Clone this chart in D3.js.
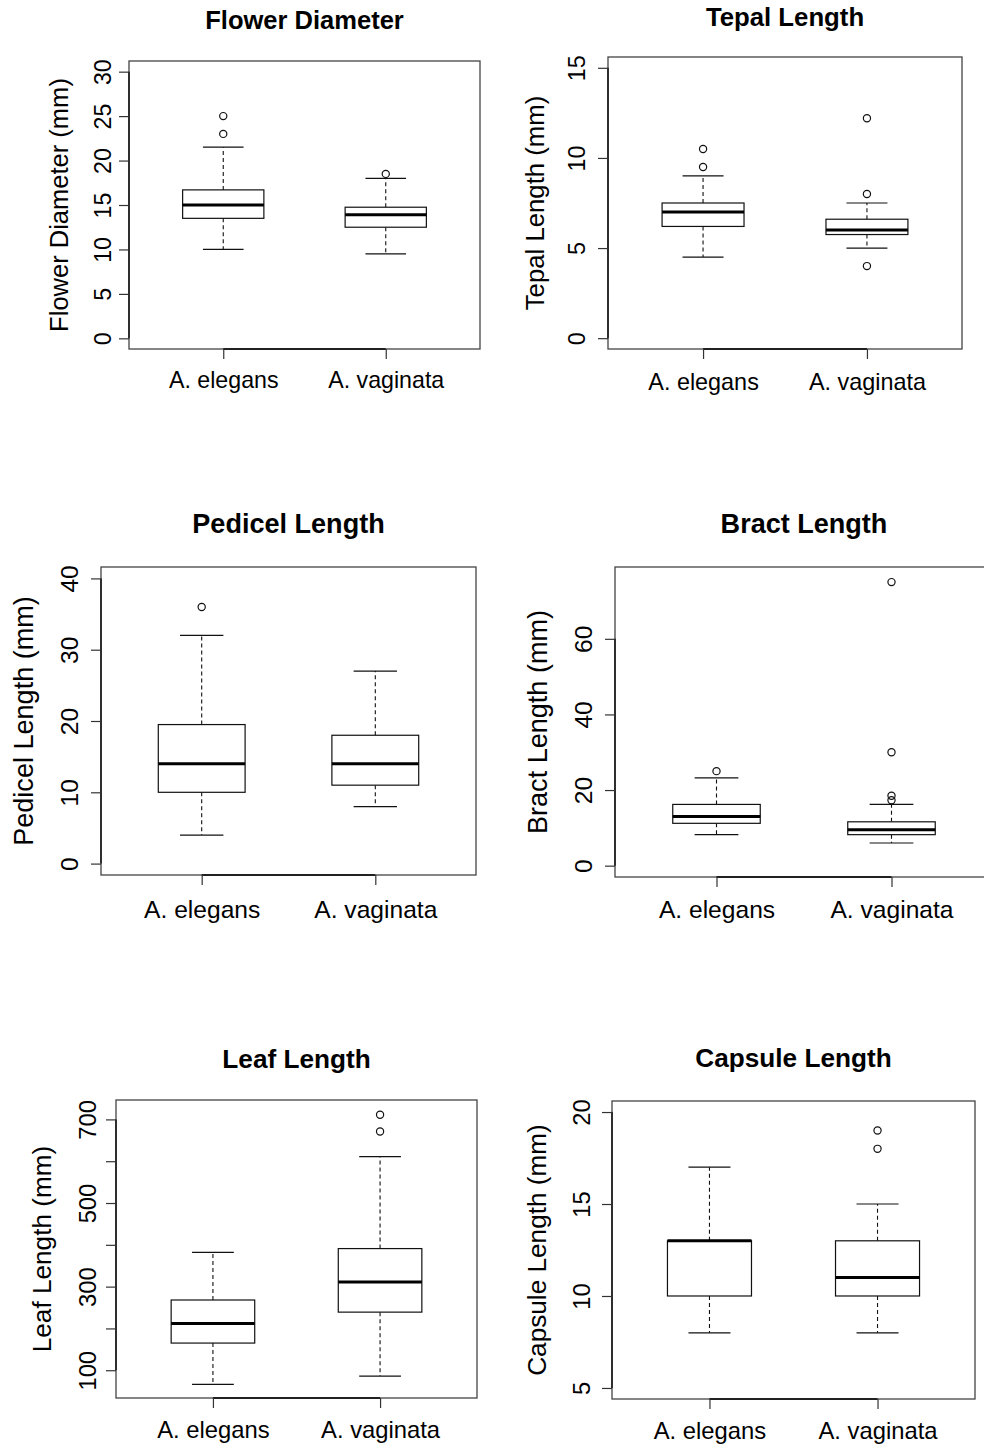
<!DOCTYPE html>
<html>
<head>
<meta charset="utf-8">
<script src="https://cdn.jsdelivr.net/npm/d3@7"></script>
<style>
  body { margin: 0; background: #fff; }
  text { font-family: "Liberation Sans", Arial, sans-serif; fill: #000; }
</style>
</head>
<body>
<div id="chart"></div>
<script>
const width = 984;
const height = 1448;

const species = ["A. elegans", "A. vaginata"];

// five-number summaries: [lower whisker, Q1, median, Q3, upper whisker]
const flowerStats = [[10, 13.5, 15, 16.7, 21.5], [9.5, 12.5, 13.9, 14.75, 18]];
const flowerOut = [[23, 25], [18.5]];
const flowerTicks = [0, 5, 10, 15, 20, 25, 30];

const tepalStats = [[4.5, 6.2, 7, 7.5, 9], [5, 5.75, 6, 6.6, 7.5]];
const tepalOut = [[9.5, 10.5], [4, 8, 12.2]];
const tepalTicks = [0, 5, 10, 15];

const pedicelStats = [[4, 10, 14, 19.5, 32], [8, 11, 14, 18, 27]];
const pedicelOut = [[36], []];
const pedicelTicks = [0, 10, 20, 30, 40];

const bractStats = [[8.2, 11.2, 13, 16.2, 23.2], [6, 8.2, 9.5, 11.6, 16.2]];
const bractOut = [[25], [17.3, 18.5, 30, 75]];
const bractTicks = [0, 20, 40, 60];

const leafStats = [[66, 165, 212, 268, 382], [86, 239, 311, 391, 611]];
const leafOut = [[], [671, 711]];
const leafTicks = [100, 200, 300, 400, 500, 600, 700];
const leafTickLabels = ["100", "", "300", "", "500", "", "700"];

const capsuleStats = [[8, 10, 13, 13, 17], [8, 10, 11, 13, 15]];
const capsuleOut = [[], [18, 19]];
const capsuleTicks = [5, 10, 15, 20];

const panels = [
  { title: "Flower Diameter", ylab: "Flower Diameter (mm)", stats: flowerStats, out: flowerOut, ticks: flowerTicks, domain: [-1.2, 31.2] },
  { title: "Tepal Length", ylab: "Tepal Length (mm)", stats: tepalStats, out: tepalOut, ticks: tepalTicks, domain: [-0.6, 15.6] },
  { title: "Pedicel Length", ylab: "Pedicel Length (mm)", stats: pedicelStats, out: pedicelOut, ticks: pedicelTicks, domain: [-1.6, 41.6] },
  { title: "Bract Length", ylab: "Bract Length (mm)", stats: bractStats, out: bractOut, ticks: bractTicks, domain: [-3, 79] },
  { title: "Leaf Length", ylab: "Leaf Length (mm)", stats: leafStats, out: leafOut, ticks: leafTicks, tickLabels: leafTickLabels, domain: [33.6, 746.4] },
  { title: "Capsule Length", ylab: "Capsule Length (mm)", stats: capsuleStats, out: capsuleOut, ticks: capsuleTicks, domain: [4.4, 20.6] }
];

// where each panel sits on the page
const layout = [
  { left: 129, right: 480, top: 61, bottom: 349, titleY: 29, ylabX: 68, ytickX: 110.5, xlabY: 388, fs: 23.2 },
  { left: 608, right: 962, top: 57, bottom: 349, titleY: 26, ylabX: 544, ytickX: 585, xlabY: 390, fs: 23.4 },
  { left: 101, right: 476, top: 567, bottom: 875, titleY: 533, ylabX: 33, ytickX: 78, xlabY: 918, fs: 24.6 },
  { left: 615, right: 993, top: 567, bottom: 877, titleY: 533, ylabX: 547, ytickX: 592, xlabY: 918, fs: 24.6 },
  { left: 116, right: 477, top: 1100, bottom: 1398, titleY: 1068, ylabX: 51, ytickX: 95.5, xlabY: 1438, fs: 23.8 },
  { left: 612, right: 975, top: 1101, bottom: 1399, titleY: 1067, ylabX: 546, ytickX: 590, xlabY: 1439, fs: 23.8 }
];

const svg = d3.select("#chart")
  .append("svg")
  .attr("width", width)
  .attr("height", height);

svg.append("rect")
  .attr("width", width)
  .attr("height", height)
  .attr("fill", "white");

panels.forEach(function(p, i) {
  const L = layout[i];
  const g = svg.append("g");

  const x = d3.scaleLinear().domain([0.42, 2.58]).range([L.left, L.right]);
  const y = d3.scaleLinear().domain(p.domain).range([L.bottom, L.top]);
  const xs = [1, 2];

  // plot frame
  g.append("rect")
    .attr("x", L.left)
    .attr("y", L.top)
    .attr("width", L.right - L.left)
    .attr("height", L.bottom - L.top)
    .attr("fill", "none")
    .attr("stroke", "#444")
    .attr("stroke-width", 1.3);

  // y axis
  const yAxis = g.append("g")
    .attr("transform", `translate(${L.left},0)`)
    .call(d3.axisLeft(y)
      .tickValues(p.ticks)
      .tickSize(10)
      .tickSizeOuter(0)
      .tickFormat((d, k) => p.tickLabels ? p.tickLabels[k] : d));
  yAxis.select(".domain")
    .attr("d", `M0,${y(p.ticks[0])}V${y(p.ticks[p.ticks.length - 1])}`)
    .attr("stroke", "#000")
    .attr("stroke-width", 1.3);
  yAxis.selectAll(".tick line").attr("stroke", "#333").attr("stroke-width", 1.2);
  yAxis.selectAll(".tick text")
    .attr("x", null).attr("dy", null)
    .attr("transform", `translate(${L.ytickX - L.left},0) rotate(-90)`)
    .attr("text-anchor", "middle")
    .attr("font-size", L.fs)
    .attr("font-family", "Liberation Sans, Arial, sans-serif")
    .attr("fill", "#000");

  // x axis
  const xAxis = g.append("g")
    .attr("transform", `translate(0,${L.bottom})`)
    .call(d3.axisBottom(x)
      .tickValues(xs)
      .tickSize(10)
      .tickSizeOuter(0)
      .tickFormat((d, k) => species[k]));
  xAxis.select(".domain")
    .attr("d", `M${x(1)},0H${x(2)}`)
    .attr("stroke", "#000")
    .attr("stroke-width", 1.3);
  xAxis.selectAll(".tick line").attr("stroke", "#333").attr("stroke-width", 1.2);
  xAxis.selectAll(".tick text")
    .attr("y", L.xlabY - L.bottom).attr("dy", null)
    .attr("font-size", L.fs)
    .attr("font-family", "Liberation Sans, Arial, sans-serif")
    .attr("fill", "#000");

  // titles
  g.append("text")
    .attr("x", (L.left + L.right) / 2)
    .attr("y", L.titleY)
    .attr("text-anchor", "middle")
    .attr("font-weight", "bold")
    .attr("font-size", L.fs * 1.1)
    .text(p.title);

  g.append("text")
    .attr("transform", `translate(${L.ylabX},${(L.top + L.bottom) / 2}) rotate(-90)`)
    .attr("text-anchor", "middle")
    .attr("font-size", L.fs * 1.1)
    .text(p.ylab);

  // boxes
  const bw = 0.25, sw = 0.125;
  p.stats.forEach(function(s, k) {
    const cx = xs[k];
    const bg = g.append("g").attr("stroke", "#111").attr("fill", "none");
    bg.append("line")
      .attr("x1", x(cx)).attr("x2", x(cx))
      .attr("y1", y(s[3])).attr("y2", y(s[4]))
      .attr("stroke-dasharray", "4,3").attr("stroke-width", 1.1);
    bg.append("line")
      .attr("x1", x(cx)).attr("x2", x(cx))
      .attr("y1", y(s[1])).attr("y2", y(s[0]))
      .attr("stroke-dasharray", "4,3").attr("stroke-width", 1.1);
    [s[0], s[4]].forEach(function(v) {
      bg.append("line")
        .attr("x1", x(cx - sw)).attr("x2", x(cx + sw))
        .attr("y1", y(v)).attr("y2", y(v))
        .attr("stroke-width", 1.2);
    });
    bg.append("rect")
      .attr("x", x(cx - bw))
      .attr("y", y(s[3]))
      .attr("width", x(cx + bw) - x(cx - bw))
      .attr("height", y(s[1]) - y(s[3]))
      .attr("fill", "white")
      .attr("stroke-width", 1.2);
    bg.append("line")
      .attr("x1", x(cx - bw)).attr("x2", x(cx + bw))
      .attr("y1", y(s[2])).attr("y2", y(s[2]))
      .attr("stroke", "#000")
      .attr("stroke-width", 3);
    bg.selectAll("circle")
      .data(p.out[k])
      .enter().append("circle")
      .attr("cx", x(cx))
      .attr("cy", d => y(d))
      .attr("r", 3.6)
      .attr("stroke-width", 1.2);
  });
});
</script>
</body>
</html>
